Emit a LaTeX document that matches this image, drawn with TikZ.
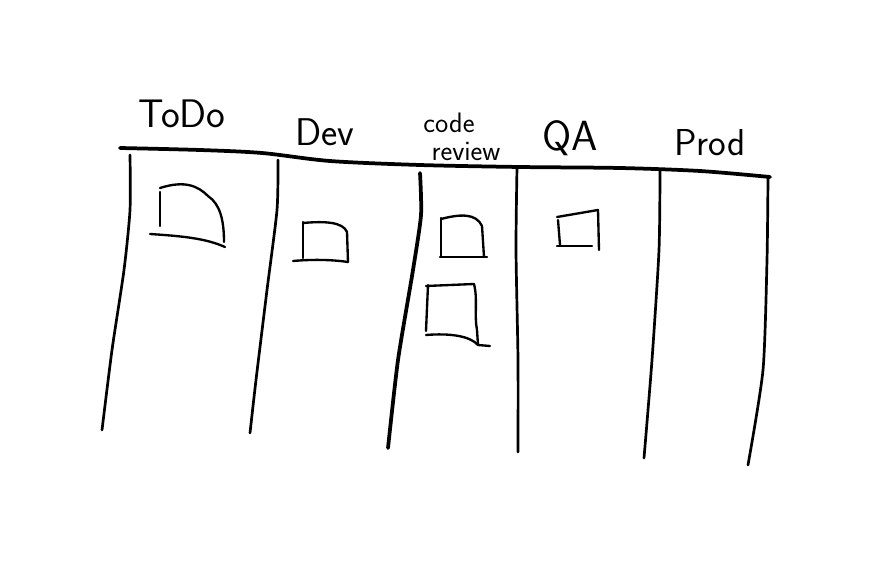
\documentclass[tikz,border=0pt]{standalone}
\usepackage{tikz}
\usetikzlibrary{calc}
\usetikzlibrary{positioning}
\tikzset{>=latex}
\tikzstyle{pen} = [line width=2.3pt, line cap=round, line join=round, black]
\tikzstyle{bar} = [line width=3.2pt, line cap=round, line join=round, black]
\tikzstyle{card} = [line width=2pt, line cap=round, line join=round, black]
\tikzstyle{head} = [inner sep=0pt, font=\sffamily\fontsize{34}{34}\selectfont]

\begin{document}
\begin{tikzpicture}[x={(0.03cm,0)}, y={(0,-0.03cm)}]
\useasboundingbox (0,0) rectangle (873,569);
% header line
\draw [bar] plot [smooth, tension=0.5] coordinates {(120,148) (200,150) (262,153) (330,161) (420,165) (520,167) (620,168) (700,171) (770,177)};
% column borders
\draw [pen] plot [smooth, tension=0.4] coordinates {(130,155) (130,210) (124,270) (112,350) (102,430)};
\draw [pen] plot [smooth, tension=0.4] coordinates {(278,160) (277,210) (267,290) (256,380) (250,433)};
\draw [bar] plot [smooth, tension=0.4] coordinates {(420,173) (421,215) (413,270) (398,360) (388,448)};
\draw [pen] plot [smooth, tension=0.4] coordinates {(517,167) (516,250) (518,360) (518,452)};
\draw [pen] plot [smooth, tension=0.4] coordinates {(660,170) (659,250) (652,360) (644,458)};
\draw [pen] plot [smooth, tension=0.4] coordinates {(768,177) (767,260) (763,370) (748,465)};
% headings
\node [head] (todo) at (182,114) {ToDo};
\node [head, font=\sffamily\fontsize{33}{33}\selectfont] (dev) at (325,132) {Dev};
\node [head, font=\sffamily\fontsize{24}{24}\selectfont] (code) at (449,123) {code};
\node [head, font=\sffamily\fontsize{24}{24}\selectfont] (review) at (466,152) {review};
\node [head, font=\sffamily\fontsize{36}{36}\selectfont] (qa) at (570,138) {QA};
\node [head, font=\sffamily\fontsize{32}{32}\selectfont] (prod) at (710,143) {Prod};
% cards
\draw [card] (160,192) -- (160,226);
\draw [card] (160,188) .. controls (185,180) and (198,186) .. (208,196) .. controls (220,204) and (224,220) .. (224,242);
\draw [card] (150,234) .. controls (180,236) and (205,238) .. (225,247);
\draw [card] (303,222) -- (303,258);
\draw [card] (303,223) .. controls (325,221) and (343,222) .. (347,232) -- (348,262);
\draw [card] (293,261) .. controls (315,259) and (335,260) .. (348,262);
\draw [card] (441,218) -- (441,256);
\draw [card] (441,219) .. controls (460,214) and (476,213) .. (482,226) -- (484,257);
\draw [card] (440,257) -- (487,257);
\draw [card] (428,285) -- (426,331);
\draw [card] (426,286) -- (474,284) .. controls (478,300) and (474,315) .. (477,330) -- (478,345);
\draw [card] (426,335) .. controls (450,333) and (470,336) .. (478,345) -- (490,346);
\draw [card] (558,220) -- (560,245);
\draw [card] (557,217) -- (598,210) -- (599,250);
\draw [card] (557,246) -- (592,246);
\end{tikzpicture}
\end{document}
